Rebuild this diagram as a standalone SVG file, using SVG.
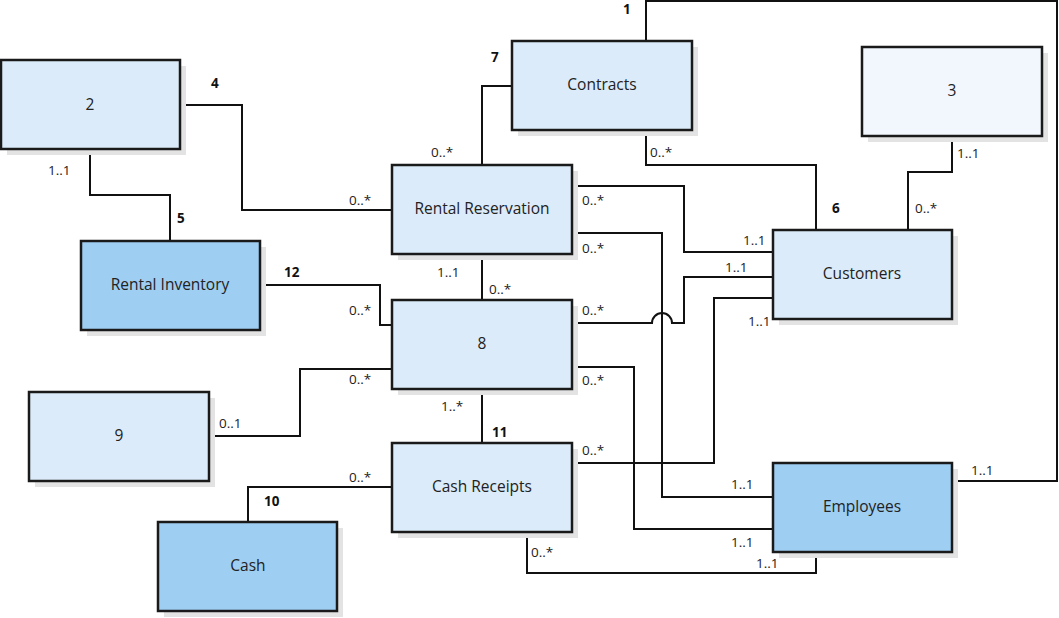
<svg xmlns="http://www.w3.org/2000/svg" width="1059" height="618" viewBox="0 0 1059 618">
<style>
.sh{fill:#e3e3e3}
.b{stroke:#1a1a1a;stroke-width:2.5}
.lt{fill:#dbebf9}
.dk{fill:#9fcef3}
.vl{fill:#f2f7fd}
.t{font-family:"Open Sans","Liberation Sans",sans-serif;font-size:15.5px;fill:#222;text-anchor:middle}
.m{font-family:"Open Sans","Liberation Sans",sans-serif;font-size:13.5px;fill:#222}
.n{font-family:"Open Sans","Liberation Sans",sans-serif;font-size:13.5px;font-weight:bold;fill:#111}
.c{fill:none;stroke:#111;stroke-width:2}
</style>
<rect width="1059" height="618" fill="#fff"/>
<g id="connectors">
<path class="c" d="M90 149V195H170V241"/>
<path class="c" d="M180 105H242V210H392"/>
<path class="c" d="M482 165V86H512"/>
<path class="c" d="M646 41V1H1057V481H952"/>
<path class="c" d="M646 130V165H816V230"/>
<path class="c" d="M952 136V172H908V230"/>
<path class="c" d="M572 186H684V252H773"/>
<path class="c" d="M572 233H662V497H773"/>
<path class="c" d="M482 254V300"/>
<path class="c" d="M572 323H652A10 10 0 0 1 672 323H684V277H773"/>
<path class="c" d="M773 298H714V463H572"/>
<path class="c" d="M572 367H634V529H773"/>
<path class="c" d="M482 389V443"/>
<path class="c" d="M527 532V573H816V552"/>
<path class="c" d="M209 436H300V369H392"/>
<path class="c" d="M260 285H380V325H392"/>
<path class="c" d="M248 522V487H392"/>
</g>
<g id="node-2"><rect class="sh" x="7" y="66" width="179" height="89"/><rect class="b lt" x="1" y="60" width="179" height="89"/><text class="t" x="90" y="110">2</text></g>
<g id="node-rental-inventory"><rect class="sh" x="87" y="247" width="179" height="89"/><rect class="b dk" x="81" y="241" width="179" height="89"/><text class="t" x="170" y="290">Rental Inventory</text></g>
<g id="node-contracts"><rect class="sh" x="518" y="47" width="180" height="89"/><rect class="b lt" x="512" y="41" width="180" height="89"/><text class="t" x="602" y="90">Contracts</text></g>
<g id="node-3"><rect class="sh" x="868" y="53" width="180" height="89"/><rect class="b vl" x="862" y="47" width="180" height="89"/><text class="t" x="952" y="96">3</text></g>
<g id="node-rental-reservation"><rect class="sh" x="398" y="171" width="180" height="89"/><rect class="b lt" x="392" y="165" width="180" height="89"/><text class="t" x="482" y="214">Rental Reservation</text></g>
<g id="node-customers"><rect class="sh" x="779" y="236" width="179" height="89"/><rect class="b lt" x="773" y="230" width="179" height="89"/><text class="t" x="862" y="279">Customers</text></g>
<g id="node-8"><rect class="sh" x="398" y="306" width="180" height="89"/><rect class="b lt" x="392" y="300" width="180" height="89"/><text class="t" x="482" y="349">8</text></g>
<g id="node-9"><rect class="sh" x="35" y="398" width="180" height="89"/><rect class="b lt" x="29" y="392" width="180" height="89"/><text class="t" x="119" y="441">9</text></g>
<g id="node-cash-receipts"><rect class="sh" x="398" y="449" width="180" height="89"/><rect class="b lt" x="392" y="443" width="180" height="89"/><text class="t" x="482" y="492">Cash Receipts</text></g>
<g id="node-employees"><rect class="sh" x="779" y="469" width="179" height="89"/><rect class="b dk" x="773" y="463" width="179" height="89"/><text class="t" x="862" y="512">Employees</text></g>
<g id="node-cash"><rect class="sh" x="164" y="528" width="179" height="89"/><rect class="b dk" x="158" y="522" width="179" height="89"/><text class="t" x="248" y="571">Cash</text></g>
<g id="labels">
<text class="n" x="623" y="14">1</text>
<text class="n" x="211" y="88">4</text>
<text class="n" x="177" y="223">5</text>
<text class="n" x="832" y="213">6</text>
<text class="n" x="491" y="62">7</text>
<text class="n" x="264" y="506">10</text>
<text class="n" x="492" y="437">11</text>
<text class="n" x="284" y="277">12</text>
<text class="m" x="48" y="175">1..1</text>
<text class="m" x="349" y="205">0..*</text>
<text class="m" x="431" y="157">0..*</text>
<text class="m" x="650" y="157">0..*</text>
<text class="m" x="957" y="158">1..1</text>
<text class="m" x="915" y="213">0..*</text>
<text class="m" x="582" y="205">0..*</text>
<text class="m" x="743" y="245">1..1</text>
<text class="m" x="582" y="253">0..*</text>
<text class="m" x="725" y="272">1..1</text>
<text class="m" x="748" y="326">1..1</text>
<text class="m" x="437" y="277">1..1</text>
<text class="m" x="489" y="294">0..*</text>
<text class="m" x="349" y="315">0..*</text>
<text class="m" x="582" y="315">0..*</text>
<text class="m" x="349" y="384">0..*</text>
<text class="m" x="582" y="385">0..*</text>
<text class="m" x="219" y="428">0..1</text>
<text class="m" x="441" y="411">1..*</text>
<text class="m" x="349" y="482">0..*</text>
<text class="m" x="582" y="455">0..*</text>
<text class="m" x="731" y="489">1..1</text>
<text class="m" x="971" y="475">1..1</text>
<text class="m" x="731" y="547">1..1</text>
<text class="m" x="756" y="568">1..1</text>
<text class="m" x="531" y="557">0..*</text>
</g>
</svg>
